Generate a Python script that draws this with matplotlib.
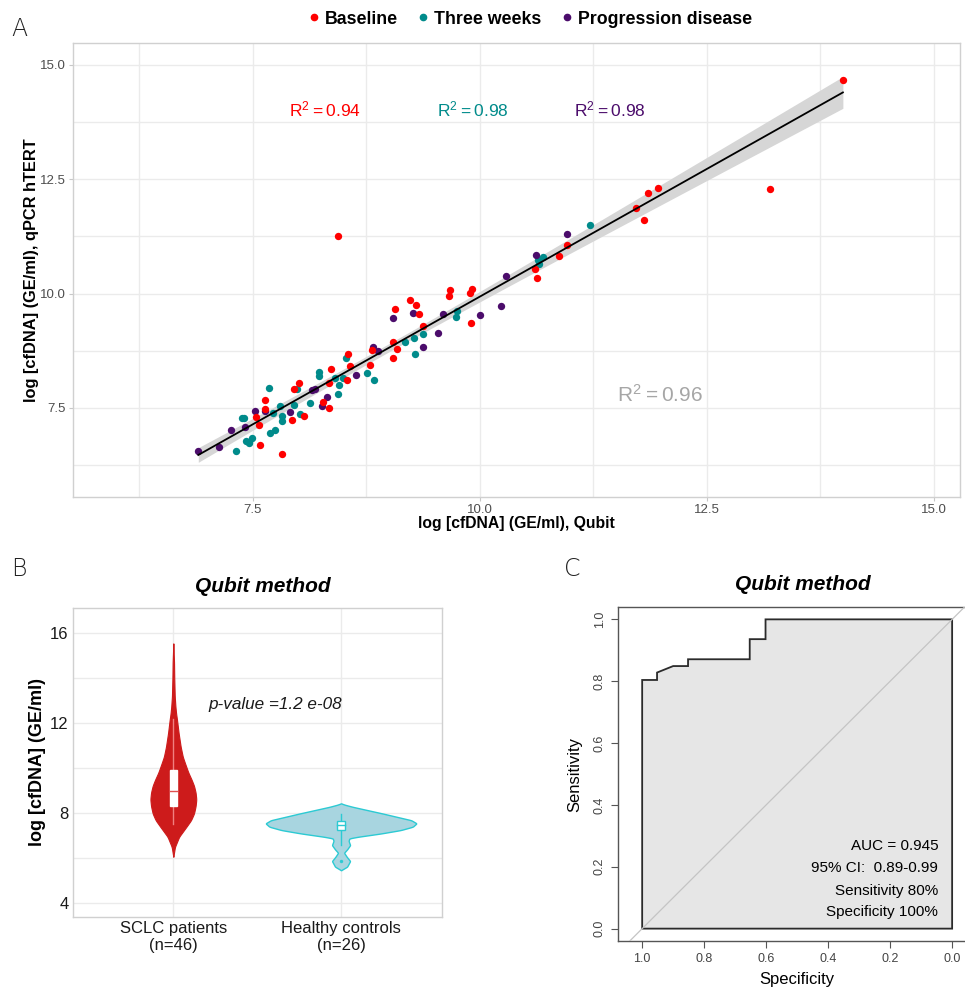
import numpy as np
import matplotlib
matplotlib.use("Agg")
import matplotlib.pyplot as plt
from matplotlib.lines import Line2D

plt.rcParams['font.family'] = ['Liberation Sans', 'DejaVu Sans']

# ---------------- Panel A data ----------------
baseline_x = [7.58, 7.82, 7.54, 7.57, 7.63, 7.63, 7.93, 7.95, 8.01, 8.06, 8.27, 8.34, 8.36, 8.34,
              8.54, 8.55, 8.57, 8.79, 8.81, 9.04, 9.05, 9.09, 9.07, 9.23, 9.30, 9.33, 9.38, 9.66,
              9.67, 9.89, 9.92, 9.90, 10.61, 10.63, 10.87, 10.96, 11.72, 11.81, 11.85, 11.96,
              13.20, 14.00, 8.44]
baseline_y = [6.68, 6.49, 7.29, 7.13, 7.67, 7.47, 7.23, 7.91, 8.05, 7.33, 7.62, 7.49, 8.36, 8.05,
              8.11, 8.68, 8.42, 8.44, 8.76, 8.58, 8.94, 8.78, 9.67, 9.86, 9.75, 9.56, 9.28, 9.95,
              10.07, 10.01, 10.10, 9.36, 10.54, 10.35, 10.83, 11.07, 11.88, 11.60, 12.20, 12.31,
              12.28, 14.66, 11.26]
three_weeks_x = [7.31, 7.38, 7.40, 7.43, 7.46, 7.46, 7.49, 7.68, 7.69, 7.74, 7.72, 7.80, 7.82,
                 7.82, 7.95, 7.99, 8.02, 8.13, 8.23, 8.23, 8.41, 8.45, 8.44, 8.49, 8.53, 8.76,
                 8.84, 9.18, 9.28, 9.29, 9.37, 9.74, 9.75, 10.64, 10.70, 10.65, 11.21]
three_weeks_y = [6.56, 7.27, 7.27, 6.78, 6.76, 6.73, 6.84, 7.94, 6.95, 7.01, 7.38, 7.54, 7.33,
                 7.22, 7.57, 7.91, 7.37, 7.60, 8.29, 8.19, 8.15, 8.00, 7.81, 8.15, 8.59, 8.26,
                 8.10, 8.95, 9.03, 8.68, 9.11, 9.48, 9.61, 10.74, 10.80, 10.64, 11.51]
progression_x = [6.90, 7.13, 7.26, 7.41, 7.53, 7.63, 7.91, 8.15, 8.19, 8.32, 8.26, 8.64, 8.82,
                 8.88, 9.04, 9.27, 9.38, 9.54, 9.59, 10.00, 10.23, 10.29, 10.96, 10.62]
progression_y = [6.55, 6.65, 7.02, 7.09, 7.44, 7.43, 7.41, 7.89, 7.91, 7.73, 7.54, 8.21, 8.83,
                 8.75, 9.46, 9.58, 8.83, 9.14, 9.56, 9.53, 9.73, 10.38, 11.30, 10.84]
group_labels = ["Baseline", "Three weeks", "Progression disease"]
group_r2 = ["0.94", "0.98", "0.98"]
overall_r2 = "0.96"
a_ticks = [7.5, 10.0, 12.5, 15.0]

# ---------------- Panel B data ----------------
b_categories = ["SCLC patients\n(n=46)", "Healthy controls\n(n=26)"]
sclc_violin_y = [6.04, 6.48, 6.93, 7.38, 7.67, 7.97, 8.3, 8.6, 8.9, 9.2, 9.46, 9.8, 10.2, 10.5,
                 10.94, 11.55, 12.14, 12.43, 12.74, 13.2, 14.0, 14.7, 15.55]
sclc_violin_density = [0, .07, .25, .57, .77, .90, .97, 1.0, .97, .90, .80, .65, .51, .41, .32,
                       .23, .16, .12, .09, .06, .04, .03, 0]
healthy_violin_y = [5.44, 5.60, 5.85, 6.04, 6.22, 6.37, 6.56, 6.75, 6.86, 6.93, 7.08, 7.23, 7.38,
                    7.53, 7.67, 7.82, 7.97, 8.12, 8.27, 8.36, 8.42]
healthy_violin_density = [0, .08, .12, .075, .04, .08, .12, .10, .11, .22, .53, .79, .95, 1.0,
                          .93, .74, .55, .35, .15, .05, 0]
sclc_box = dict(q1=8.29, med=8.95, q3=9.90, lo=7.5, hi=12.2)
healthy_box = dict(q1=7.23, med=7.44, q3=7.64, lo=6.56, hi=7.94)
healthy_outliers = [5.84]
b_yticks = [4, 8, 12, 16]
p_value_text = "p-value =1.2 e-08"

# ---------------- Panel C data ----------------
roc_specificity = [1.0, 1.0, 0.952, 0.952, 0.90, 0.852, 0.852, 0.653, 0.653, 0.602, 0.602, 0.0]
roc_sensitivity = [0.0, 0.804, 0.804, 0.828, 0.849, 0.849, 0.871, 0.871, 0.936, 0.936, 1.0, 1.0]
c_ticks = [1.0, 0.8, 0.6, 0.4, 0.2, 0.0]
c_text = ["AUC = 0.945", "95% CI:  0.89-0.99", "Sensitivity 80%", "Specificity 100%"]

# ---------------- Figure ----------------
W, H = 965, 991
fig = plt.figure(figsize=(W / 100, H / 100), dpi=100)

def fx(px):
    return px / W

def fy(py):
    return 1 - py / H

col_red = "#FF0000"
col_teal = "#008B8B"
col_purple = "#4B0C6B"
grid_c = "#EBEBEB"
tick_c = "#4D4D4D"

# ===== Panel A =====
axA = fig.add_axes([fx(73), fy(497), fx(960) - fx(73), fy(43) - fy(497)])
axA.set_xlim(5.52, 15.29)
axA.set_ylim(5.55, 15.48)
axA.set_xticks(a_ticks)
axA.set_xticklabels([f"{t:.1f}" for t in a_ticks])
axA.set_yticks(a_ticks)
axA.set_yticklabels([f"{t:.1f}" for t in a_ticks])
minorA = [(a_ticks[i] + a_ticks[i + 1]) / 2 for i in range(len(a_ticks) - 1)] + [6.25]
axA.set_xticks(minorA, minor=True)
axA.set_yticks(minorA, minor=True)
axA.grid(True, which='both', color=grid_c, lw=1.0, zorder=0)
axA.set_axisbelow(True)
for s in axA.spines.values():
    s.set_color("#D0D0D0")
    s.set_linewidth(1.0)
axA.tick_params(which='major', length=3, color="#C8C8C8", labelsize=9.5, labelcolor=tick_c, pad=2)
axA.tick_params(which='minor', length=0)

# regression line with confidence band (all points)
all_x = np.array(baseline_x + three_weeks_x + progression_x)
all_y = np.array(baseline_y + three_weeks_y + progression_y)
n = len(all_x)
b1, b0 = np.polyfit(all_x, all_y, 1)
xs = np.linspace(all_x.min(), all_x.max(), 200)
ys = b0 + b1 * xs
resid = all_y - (b0 + b1 * all_x)
s_err = np.sqrt(np.sum(resid ** 2) / (n - 2))
sxx = np.sum((all_x - all_x.mean()) ** 2)
se = s_err * np.sqrt(1 / n + (xs - all_x.mean()) ** 2 / sxx)
axA.fill_between(xs, ys - 1.99 * se, ys + 1.99 * se, color="#D6D6D6", lw=0, zorder=2)

for gx, gy, c in [(three_weeks_x, three_weeks_y, col_teal),
                  (progression_x, progression_y, col_purple),
                  (baseline_x, baseline_y, col_red)]:
    axA.scatter(gx, gy, s=28, color=c, lw=0, zorder=3)
axA.plot(xs, ys, color="black", lw=1.3, zorder=4)

r2_x = [8.3, 9.92, 11.43]
for xx, r2, c in zip(r2_x, group_r2, [col_red, col_teal, col_purple]):
    axA.text(xx, 14.02, r"$\mathregular{R^2 = " + r2 + "}$", color=c, fontsize=12.5,
             ha='center', va='center', zorder=5)
axA.text(11.98, 7.78, r"$\mathregular{R^2 = " + overall_r2 + "}$", color="#A6A6A6", fontsize=15,
         ha='center', va='center', zorder=5)

axA.set_xlabel("log [cfDNA] (GE/ml), Qubit", fontsize=11.3, fontweight='bold', labelpad=0)
axA.set_ylabel("log [cfDNA] (GE/ml), qPCR hTERT", fontsize=11.8, fontweight='bold', labelpad=1)

handles = [Line2D([], [], marker='o', ls='', color=c, markersize=4.5)
           for c in [col_red, col_teal, col_purple]]
fig.legend(handles, group_labels, loc='center', bbox_to_anchor=(fx(528), fy(19)), ncol=3,
           frameon=False, handletextpad=0.05, columnspacing=0.9, handlelength=1.1,
           prop=dict(weight='bold', size=12.8))

# ===== Panel B =====
axB = fig.add_axes([fx(72.7), fy(916.7), fx(441.7) - fx(72.7), fy(607.7) - fy(916.7)])
axB.set_xlim(0.4, 2.6)
axB.set_ylim(3.37, 17.14)
axB.set_xticks([1, 2])
axB.set_xticklabels(b_categories)
axB.set_yticks(b_yticks)
axB.set_yticks([6, 10, 14], minor=True)
axB.grid(True, which='both', color=grid_c, lw=1.0, zorder=0)
axB.set_axisbelow(True)
for s in axB.spines.values():
    s.set_color("#D0D0D0")
    s.set_linewidth(1.0)
axB.tick_params(which='major', length=0, labelsize=12, labelcolor="#1a1a1a", pad=3)
axB.tick_params(which='minor', length=0)

def violin(ax, center, yv, dens, maxw, fc, ec, lw):
    yv = np.array(yv)
    d = np.array(dens) * maxw
    yy = np.linspace(yv.min(), yv.max(), 400)
    dd = np.interp(yy, yv, d)
    k = np.ones(7) / 7
    dd = np.convolve(np.pad(dd, 3, mode='edge'), k, mode='valid')
    dd[0] = dd[-1] = 0
    ax.fill_betweenx(yy, center - dd, center + dd, facecolor=fc, edgecolor=ec, lw=lw, zorder=2)

violin(axB, 1, sclc_violin_y, sclc_violin_density, 0.137, "#CD1B1B", "#CD1B1B", 0.8)
violin(axB, 2, healthy_violin_y, healthy_violin_density, 0.45, "#A8D5E0", "#2CCAD3", 1.0)

def boxplot(ax, center, b, hw, fc, ec, medc, wc):
    ax.plot([center, center], [b['lo'], b['q1']], color=wc, lw=1.0, zorder=3)
    ax.plot([center, center], [b['q3'], b['hi']], color=wc, lw=1.0, zorder=3)
    ax.add_patch(plt.Rectangle((center - hw, b['q1']), 2 * hw, b['q3'] - b['q1'],
                               facecolor=fc, edgecolor=ec, lw=1.0, zorder=4))
    ax.plot([center - hw, center + hw], [b['med'], b['med']], color=medc, lw=1.0, zorder=5)

boxplot(axB, 1, sclc_box, 0.022, "white", "white", "#E05050", "#F08080")
boxplot(axB, 2, healthy_box, 0.024, "white", "#2CCAD3", "#2CCAD3", "#2CCAD3")
axB.scatter([2] * len(healthy_outliers), healthy_outliers, s=6, color="#2CCAD3", zorder=5, lw=0)

axB.text(1.61, 12.84, p_value_text, fontsize=12.3, style='italic', ha='center', va='center',
         color="#1a1a1a")
axB.set_ylabel("log [cfDNA] (GE/ml)", fontsize=13, fontweight='bold', labelpad=3)
fig.text(fx(263), fy(587), "Qubit method", fontsize=15, fontweight='bold', style='italic',
         ha='center', va='center')

# ===== Panel C =====
narrow = ['Liberation Sans Narrow', 'Liberation Sans', 'DejaVu Sans']
axC = fig.add_axes([fx(618.3), fy(941), 357.7 / W, fy(607.3) - fy(941)])
axC.set_xlim(1.077, -0.077)
axC.set_ylim(-0.04, 1.039)
poly_x = roc_specificity + [0.0, 1.0]
poly_y = roc_sensitivity + [0.0, 0.0]
axC.fill(poly_x, poly_y, facecolor="#E6E6E6", edgecolor="#2B2B2B", lw=1.3, zorder=2)
axC.plot([1.3, -0.3], [-0.3, 1.3], color="#C4C4C4", lw=0.9, zorder=3)
axC.set_xticks(c_ticks)
axC.set_xticklabels([f"{t:.1f}" for t in c_ticks], fontfamily=narrow)
axC.set_yticks(c_ticks)
axC.set_yticklabels([f"{t:.1f}" for t in c_ticks], rotation=90, va='center', fontfamily=narrow)
axC.tick_params(length=5, color="#555555", labelsize=9, labelcolor="#444444", pad=4)
for s in axC.spines.values():
    s.set_color("#555555")
    s.set_linewidth(1.0)
axC.set_xlabel("Specificity", fontsize=12, fontfamily=narrow, labelpad=5)
axC.set_ylabel("Sensitivity", fontsize=12, fontfamily=narrow, labelpad=8)
for i, (t, yv) in enumerate(zip(c_text, [0.267, 0.195, 0.122, 0.054])):
    axC.text(0.045, yv, t, fontsize=11, fontfamily=narrow, ha='right', va='center', zorder=5)
fig.text(fx(803), fy(585), "Qubit method", fontsize=15, fontweight='bold', style='italic',
         ha='center', va='center')

# Panel letters
for lbl, px, py in [("A", 19, 29), ("B", 19, 569), ("C", 572, 569)]:
    fig.text(fx(px), fy(py), lbl, fontsize=17, ha='center', va='center', color="#222222",
             fontfamily=['DejaVu Sans'], fontweight='light')

fig.savefig("out.png", dpi=100)
